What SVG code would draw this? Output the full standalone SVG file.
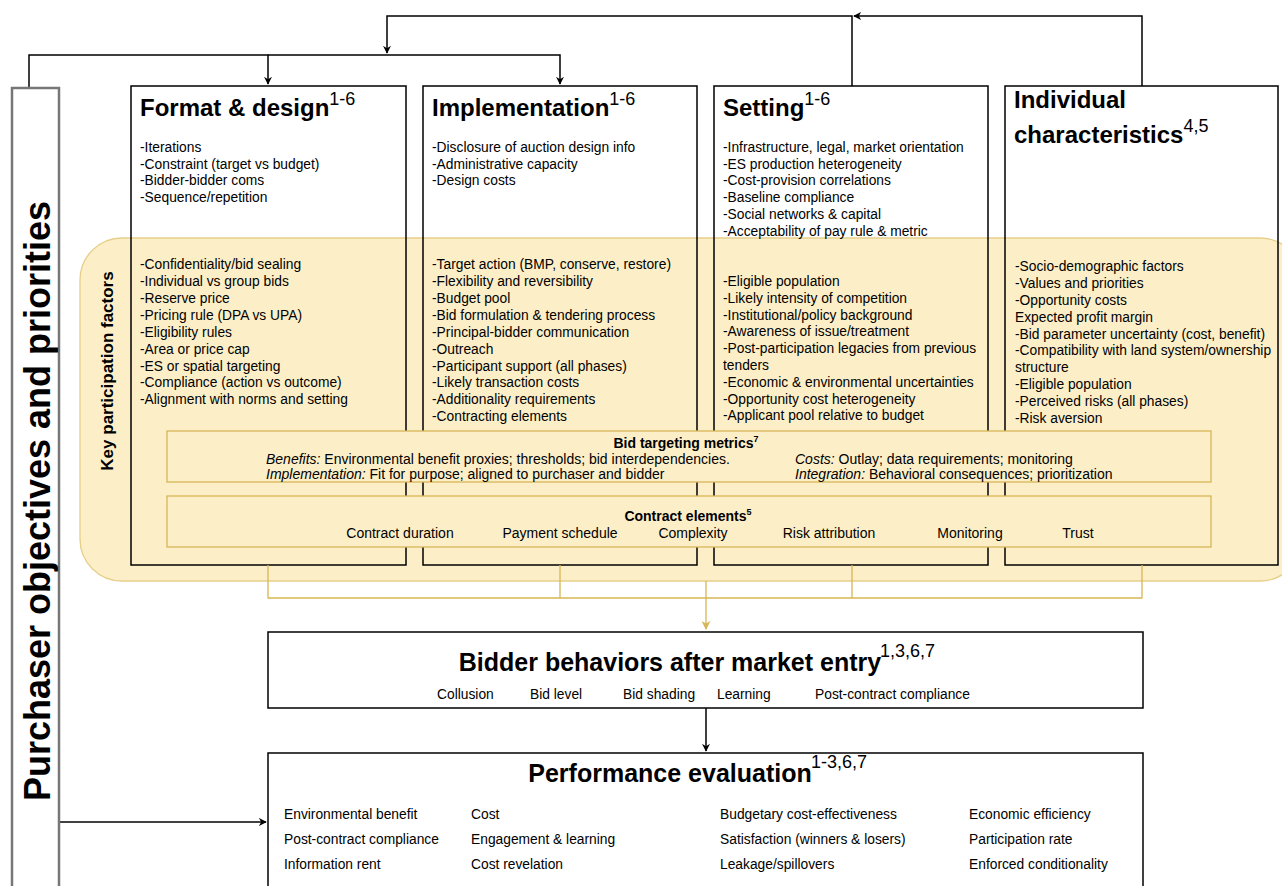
<svg xmlns="http://www.w3.org/2000/svg" width="1282" height="886" viewBox="0 0 1282 886">
<defs>
<marker id="ah" viewBox="0 0 10 10" refX="9" refY="5" markerWidth="8" markerHeight="8" markerUnits="userSpaceOnUse" orient="auto"><path d="M0,0 L10,5 L0,10 L3,5 z" fill="#000"/></marker>
<marker id="ahg" viewBox="0 0 10 10" refX="9" refY="5" markerWidth="9" markerHeight="9" markerUnits="userSpaceOnUse" orient="auto"><path d="M0,0 L10,5 L0,10 L3,5 z" fill="#d6b656"/></marker>
</defs>
<style>
text{font-family:"Liberation Sans",Arial,sans-serif;fill:#000}
.box{fill:none;stroke:#000;stroke-width:1.5}
.wbox{fill:#fff;stroke:none}
.ybox{fill:#fcefc8;stroke:#d6b656;stroke-width:1.3}
.title{font-size:24px;font-weight:bold}
.sup{font-size:18px;font-weight:normal}
.li{font-size:13.8px}
.bt{font-size:25px;font-weight:bold}
.ln{fill:none;stroke:#000;stroke-width:1.5}
.gl{fill:none;stroke:#d6b656;stroke-width:1.3}
.sm{font-size:14px}
.smb{font-size:14px;font-weight:bold}
</style>
<rect width="1282" height="886" fill="#fff"/>

<g id="connectors">
<path class="ln" d="M29,88 V55 H268 V84" marker-end="url(#ah)"/>
<path class="ln" d="M268,55 H560 V84" marker-end="url(#ah)"/>
<path class="ln" d="M852,86 V16 H387 V53" marker-end="url(#ah)"/>
<path class="ln" d="M1142,86 V16 H854" marker-end="url(#ah)"/>
<path class="ln" d="M706,708 V751" marker-end="url(#ah)"/>
<path class="ln" d="M60,822 H266" marker-end="url(#ah)"/>
</g>

<g id="purchaser">
<rect x="12" y="88" width="47" height="810" fill="#fff" stroke="#777" stroke-width="2.5"/>
<text transform="translate(50,501) rotate(-90)" text-anchor="middle" font-size="36" font-weight="bold">Purchaser objectives and priorities</text>
</g>

<g id="col-bg">
<rect class="wbox" x="131" y="86" width="275" height="479"/>
<rect class="wbox" x="423" y="86" width="274" height="479"/>
<rect class="wbox" x="714" y="86" width="274" height="479"/>
<rect class="wbox" x="1005" y="86" width="273" height="479"/>
</g>

<g id="key-participation">
<rect x="80" y="238" width="1222" height="343" rx="42" fill="#fcefc8" stroke="#e6cf8a" stroke-width="1.3"/>
<text transform="translate(113,371) rotate(-90)" text-anchor="middle" font-size="17" font-weight="bold">Key participation factors</text>
</g>

<g id="format-design">
<rect class="box" x="131" y="86" width="275" height="479"/>
<text class="title" x="140" y="116">Format &amp; design<tspan class="sup" dy="-11">1-6</tspan></text>
<text class="li" x="140" y="152">-Iterations</text>
<text class="li" x="140" y="168.5">-Constraint (target vs budget)</text>
<text class="li" x="140" y="185">-Bidder-bidder coms</text>
<text class="li" x="140" y="202">-Sequence/repetition</text>
<text class="li" x="140" y="269">-Confidentiality/bid sealing</text>
<text class="li" x="140" y="286">-Individual vs group bids</text>
<text class="li" x="140" y="303">-Reserve price</text>
<text class="li" x="140" y="320">-Pricing rule (DPA vs UPA)</text>
<text class="li" x="140" y="336.5">-Eligibility rules</text>
<text class="li" x="140" y="353.5">-Area or price cap</text>
<text class="li" x="140" y="370.5">-ES or spatial targeting</text>
<text class="li" x="140" y="387">-Compliance (action vs outcome)</text>
<text class="li" x="140" y="404">-Alignment with norms and setting</text>
</g>

<g id="implementation">
<rect class="box" x="423" y="86" width="274" height="479"/>
<text class="title" x="432" y="116">Implementation<tspan class="sup" dy="-11">1-6</tspan></text>
<text class="li" x="432" y="152">-Disclosure of auction design info</text>
<text class="li" x="432" y="168.5">-Administrative capacity</text>
<text class="li" x="432" y="185">-Design costs</text>
<text class="li" x="432" y="269">-Target action (BMP, conserve, restore)</text>
<text class="li" x="432" y="286">-Flexibility and reversibility</text>
<text class="li" x="432" y="303">-Budget pool</text>
<text class="li" x="432" y="320">-Bid formulation &amp; tendering process</text>
<text class="li" x="432" y="336.5">-Principal-bidder communication</text>
<text class="li" x="432" y="353.5">-Outreach</text>
<text class="li" x="432" y="370.5">-Participant support (all phases)</text>
<text class="li" x="432" y="387">-Likely transaction costs</text>
<text class="li" x="432" y="404">-Additionality requirements</text>
<text class="li" x="432" y="420.5">-Contracting elements</text>
</g>

<g id="setting">
<rect class="box" x="714" y="86" width="274" height="479"/>
<text class="title" x="723" y="116">Setting<tspan class="sup" dy="-11">1-6</tspan></text>
<text class="li" x="723" y="152">-Infrastructure, legal, market orientation</text>
<text class="li" x="723" y="168.5">-ES production heterogeneity</text>
<text class="li" x="723" y="185">-Cost-provision correlations</text>
<text class="li" x="723" y="202">-Baseline compliance</text>
<text class="li" x="723" y="219">-Social networks &amp; capital</text>
<text class="li" x="723" y="236">-Acceptability of pay rule &amp; metric</text>
<text class="li" x="723" y="286">-Eligible population</text>
<text class="li" x="723" y="303">-Likely intensity of competition</text>
<text class="li" x="723" y="320">-Institutional/policy background</text>
<text class="li" x="723" y="336">-Awareness of issue/treatment</text>
<text class="li" x="723" y="353">-Post-participation legacies from previous</text>
<text class="li" x="723" y="370">tenders</text>
<text class="li" x="723" y="387">-Economic &amp; environmental uncertainties</text>
<text class="li" x="723" y="404">-Opportunity cost heterogeneity</text>
<text class="li" x="723" y="420">-Applicant pool relative to budget</text>
</g>

<g id="individual">
<rect class="box" x="1005" y="86" width="273" height="479"/>
<text class="title" x="1014" y="108">Individual</text>
<text class="title" x="1014" y="143">characteristics<tspan class="sup" dy="-11">4,5</tspan></text>
<text class="li" x="1015" y="271">-Socio-demographic factors</text>
<text class="li" x="1015" y="288">-Values and priorities</text>
<text class="li" x="1015" y="305">-Opportunity costs</text>
<text class="li" x="1015" y="321.5">Expected profit margin</text>
<text class="li" x="1015" y="338.5">-Bid parameter uncertainty (cost, benefit)</text>
<text class="li" x="1015" y="355">-Compatibility with land system/ownership</text>
<text class="li" x="1015" y="372">structure</text>
<text class="li" x="1015" y="389">-Eligible population</text>
<text class="li" x="1015" y="406">-Perceived risks (all phases)</text>
<text class="li" x="1015" y="423">-Risk aversion</text>
</g>

<g id="bid-targeting">
<rect class="ybox" x="167" y="431" width="1044" height="51"/>
<text class="smb" x="686" y="448" text-anchor="middle">Bid targeting metrics<tspan font-size="9" dy="-6">7</tspan></text>
<text class="sm" x="266" y="464"><tspan font-style="italic">Benefits:</tspan> Environmental benefit proxies; thresholds; bid interdependencies.</text>
<text class="sm" x="266" y="479"><tspan font-style="italic">Implementation:</tspan> Fit for purpose; aligned to purchaser and bidder</text>
<text class="sm" x="795" y="464"><tspan font-style="italic">Costs:</tspan> Outlay; data requirements; monitoring</text>
<text class="sm" x="795" y="479"><tspan font-style="italic">Integration:</tspan> Behavioral consequences; prioritization</text>
</g>

<g id="contract-elements">
<rect class="ybox" x="167" y="496" width="1044" height="51"/>
<text class="smb" x="688" y="521" text-anchor="middle">Contract elements<tspan font-size="9" dy="-6">5</tspan></text>
<text class="sm" x="400" y="538" text-anchor="middle">Contract duration</text>
<text class="sm" x="560" y="538" text-anchor="middle">Payment schedule</text>
<text class="sm" x="693" y="538" text-anchor="middle">Complexity</text>
<text class="sm" x="829" y="538" text-anchor="middle">Risk attribution</text>
<text class="sm" x="970" y="538" text-anchor="middle">Monitoring</text>
<text class="sm" x="1078" y="538" text-anchor="middle">Trust</text>
</g>

<g id="gold-connectors">
<path class="gl" d="M268,565 V598 H1142 V565 M560,565 V598 M852,565 V598"/>
<path class="gl" d="M706,581 V629" marker-end="url(#ahg)"/>
</g>

<g id="bidder-behaviors">
<rect x="268" y="632" width="875" height="76" fill="#fff" stroke="#000" stroke-width="1.5"/>
<text class="bt" x="670" y="671" text-anchor="middle">Bidder behaviors after market entry</text>
<text class="sup" x="880" y="657">1,3,6,7</text>
<text class="li" x="437" y="699">Collusion</text>
<text class="li" x="530" y="699">Bid level</text>
<text class="li" x="623" y="699">Bid shading</text>
<text class="li" x="717" y="699">Learning</text>
<text class="li" x="815" y="699">Post-contract compliance</text>
</g>

<g id="performance-evaluation">
<rect x="268" y="753" width="875" height="150" fill="#fff" stroke="#000" stroke-width="1.5"/>
<text class="bt" x="670" y="782" text-anchor="middle">Performance evaluation</text>
<text class="sup" x="811" y="768">1-3,6,7</text>
<text class="li" x="284" y="819">Environmental benefit</text>
<text class="li" x="284" y="844">Post-contract compliance</text>
<text class="li" x="284" y="869">Information rent</text>
<text class="li" x="471" y="819">Cost</text>
<text class="li" x="471" y="844">Engagement &amp; learning</text>
<text class="li" x="471" y="869">Cost revelation</text>
<text class="li" x="720" y="819">Budgetary cost-effectiveness</text>
<text class="li" x="720" y="844">Satisfaction (winners &amp; losers)</text>
<text class="li" x="720" y="869">Leakage/spillovers</text>
<text class="li" x="969" y="819">Economic efficiency</text>
<text class="li" x="969" y="844">Participation rate</text>
<text class="li" x="969" y="869">Enforced conditionality</text>
</g>
</svg>
